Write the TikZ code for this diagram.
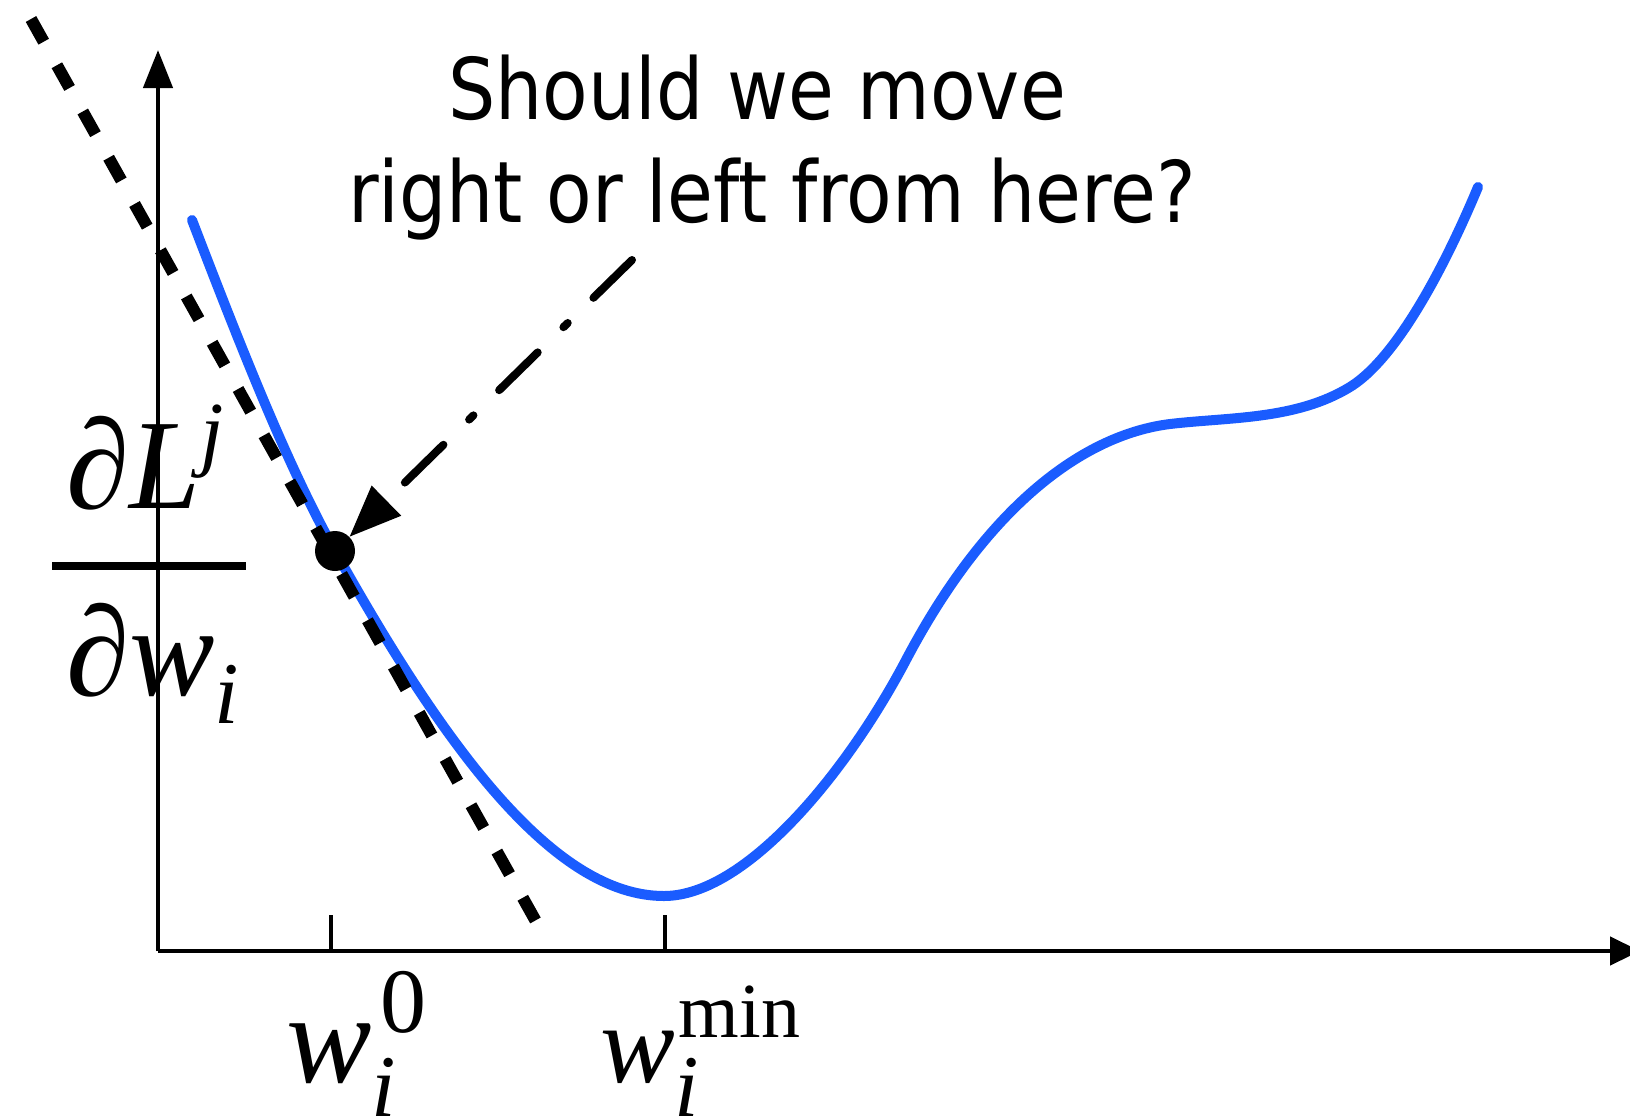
\documentclass[tikz,border=0pt]{standalone}
\usepackage{fontspec}
\setmainfont{Liberation Serif}
\newfontfamily\qfont{DejaVu Sans}
\usetikzlibrary{arrows.meta}
\definecolor{curveblue}{RGB}{26,92,255}
\begin{document}
\begin{tikzpicture}[x=1pt,y=-1pt,
  axisline/.style={line width=4.5pt},
  tickline/.style={line width=3.5pt},
  lossline/.style={line width=10pt, draw=curveblue, line cap=round},
  tangentline/.style={line width=12pt, dash pattern=on 26pt off 27pt},
  pointer/.style={line width=8pt, line cap=round, dash pattern=on 54pt off 36pt on 6pt off 36pt, -{Triangle[length=52pt,width=40pt]}},
  lbl/.style={inner sep=0pt, anchor=base west},
  question/.style={inner sep=0pt, anchor=base, font=\qfont\fontsize{85}{85}\selectfont},
  dotstyle/.style={circle, fill=black, minimum size=40pt, inner sep=0pt, outer sep=0pt}]
\clip (0,0) rectangle (1630,1117);
% axes
\coordinate (O) at (158,951);
\coordinate (ytop) at (158,50);
\coordinate (xend) at (1640,951);
\draw[axisline, -{Triangle[length=38pt,width=29pt]}] (O) -- (ytop);
\draw[axisline, -{Triangle[length=30pt,width=28pt]}] (O) -- (xend);
% ticks
\coordinate (t0a) at (331,951); \coordinate (t0b) at (331,915);
\coordinate (t1a) at (665,951); \coordinate (t1b) at (665,915);
\draw[tickline] (t0a) -- (t0b);
\draw[tickline] (t1a) -- (t1b);
% loss curve
\draw[lossline] (192,220)
  .. controls (240,345) and (287,465) .. (335,551)
  .. controls (445,748) and (554,896) .. (664,896)
  .. controls (745,896) and (846,774) .. (906,660)
  .. controls (986,508) and (1082,435) .. (1170,424)
  .. controls (1230,417) and (1296,420) .. (1350,387)
  .. controls (1402,355) and (1453,247) .. (1478,187);
% tangent
\coordinate (tanA) at (31,19);
\coordinate (tanB) at (538,925);
\draw[tangentline] (tanA) -- (tanB);
% point
\node[dotstyle] (pt) at (335,551) {};
% fraction
\coordinate (barL) at (52,566); \coordinate (barR) at (246,566);
\draw[line width=8pt] (barL) -- (barR);
\node[lbl, font=\fontsize{128}{128}\selectfont] (num) at (66,508)
  {∂\textit{L}\raisebox{48pt}{\fontsize{84}{84}\selectfont\textit{j}}};
\node[lbl, font=\fontsize{128}{128}\selectfont] (den) at (66,695)
  {∂\textit{w}\raisebox{-28pt}{\fontsize{88}{88}\selectfont\textit{i}}};
% x labels
\node[lbl, font=\fontsize{128}{128}\selectfont] (w0) at (286,1082)
  {\textit{w}\rlap{\raisebox{50pt}{\fontsize{92}{92}\selectfont\hspace{9pt}0}}\raisebox{-34pt}{\fontsize{88}{88}\selectfont\textit{i}}};
\node[lbl, font=\fontsize{112}{112}\selectfont] (wmin) at (600,1082)
  {\textit{w}\rlap{\raisebox{45pt}{\fontsize{78}{78}\selectfont\hspace{4pt}min}}\raisebox{-34pt}{\fontsize{88}{88}\selectfont\textit{i}}};
% question
\node[question] (q1) at (757,119) {\scalebox{0.877}[1]{Should we move}};
\node[question] (q2) at (772,222) {\scalebox{0.877}[1]{right or left from here?}};
% pointer
\coordinate (pstart) at (632,260);
\draw[pointer] (pstart) -- (pt);
\end{tikzpicture}
\end{document}
